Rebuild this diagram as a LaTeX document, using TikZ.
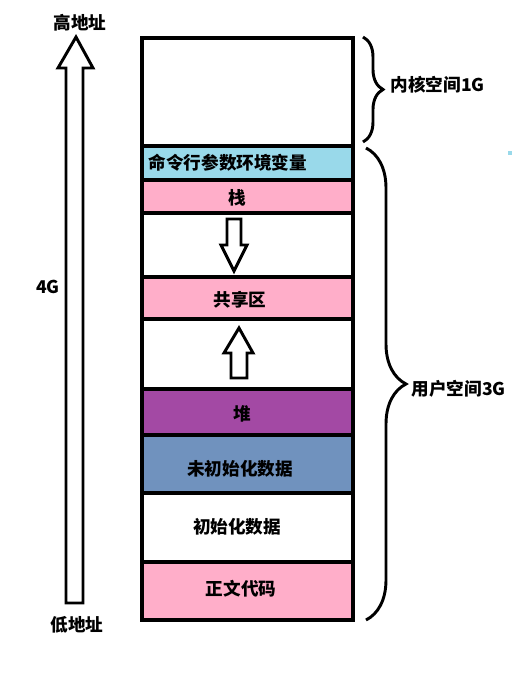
\documentclass[tikz,border=0pt]{standalone}
\usepackage{fontspec}
\setmainfont{Noto Sans CJK SC}
\usetikzlibrary{decorations.pathreplacing}
\definecolor{cmdblue}{RGB}{153,217,234}
\definecolor{segpink}{RGB}{255,174,201}
\definecolor{heappurple}{RGB}{163,73,164}
\definecolor{bssblue}{RGB}{112,146,190}

\begin{document}
\begin{tikzpicture}[x=0.75pt,y=-0.75pt,
    lbl/.style={font=\bfseries\fontsize{13.2}{15}\selectfont,inner sep=1pt},
    brc/.style={decorate,decoration={brace,amplitude=#1},line width=2.2pt},
    hollow/.style={draw,line width=2.2pt,line join=miter,fill=white}]
\useasboundingbox (0,0) rectangle (522,674);
% Сегменты памяти
\foreach \t/\b/\c in {38/146/white,146/180/cmdblue,180/213/segpink,213/277/white,277/319/segpink,
    319/389/white,389/435/heappurple,435/493/bssblue,493/562/white,562/620/segpink}
    \filldraw[fill=\c,line width=2.6pt] (142,\t) rectangle (353,\b);
\fill[cmdblue] (508,151) rectangle (512,155);

% Подписи сегментов
\node[lbl,anchor=west] (argv) at (147,163) {命令行参数环境变量};
\node[lbl] (stack) at (237,198) {栈};
\node[lbl] (shared) at (240,300) {共享区};
\node[lbl] (heap) at (242,414) {堆};
\node[lbl] (bss) at (240,469) {未初始化数据};
\node[lbl] (data) at (237,527) {初始化数据};
\node[lbl] (text) at (241,589) {正文代码};

% Стрелки роста
\draw[hollow] (227,219) -- (241,219) -- (241,245) -- (247,245) -- (234,271) -- (221,245) -- (227,245) -- cycle;
\draw[hollow] (231,378) -- (247,378) -- (247,353) -- (253,353) -- (239,328) -- (224,353) -- (231,353) -- cycle;

% Адреса
\draw[hollow] (66,603) -- (83,603) -- (83,68) -- (93,68) -- (76,37) -- (58,68) -- (66,68) -- cycle;
\node[lbl] (high) at (80,23) {高地址};
\node[lbl] (size) at (48,287) {4G};
\node[lbl] (low) at (77,625) {低地址};

% Скобки
\draw[brc=15pt] (363,37) -- (363,142);
\node[lbl,anchor=west] (kernel) at (389,85) {内核空间1G};
\draw[brc=30pt] (366,148) -- (366,620);
\node[lbl,anchor=west] (user) at (410,389) {用户空间3G};
\end{tikzpicture}
\end{document}
